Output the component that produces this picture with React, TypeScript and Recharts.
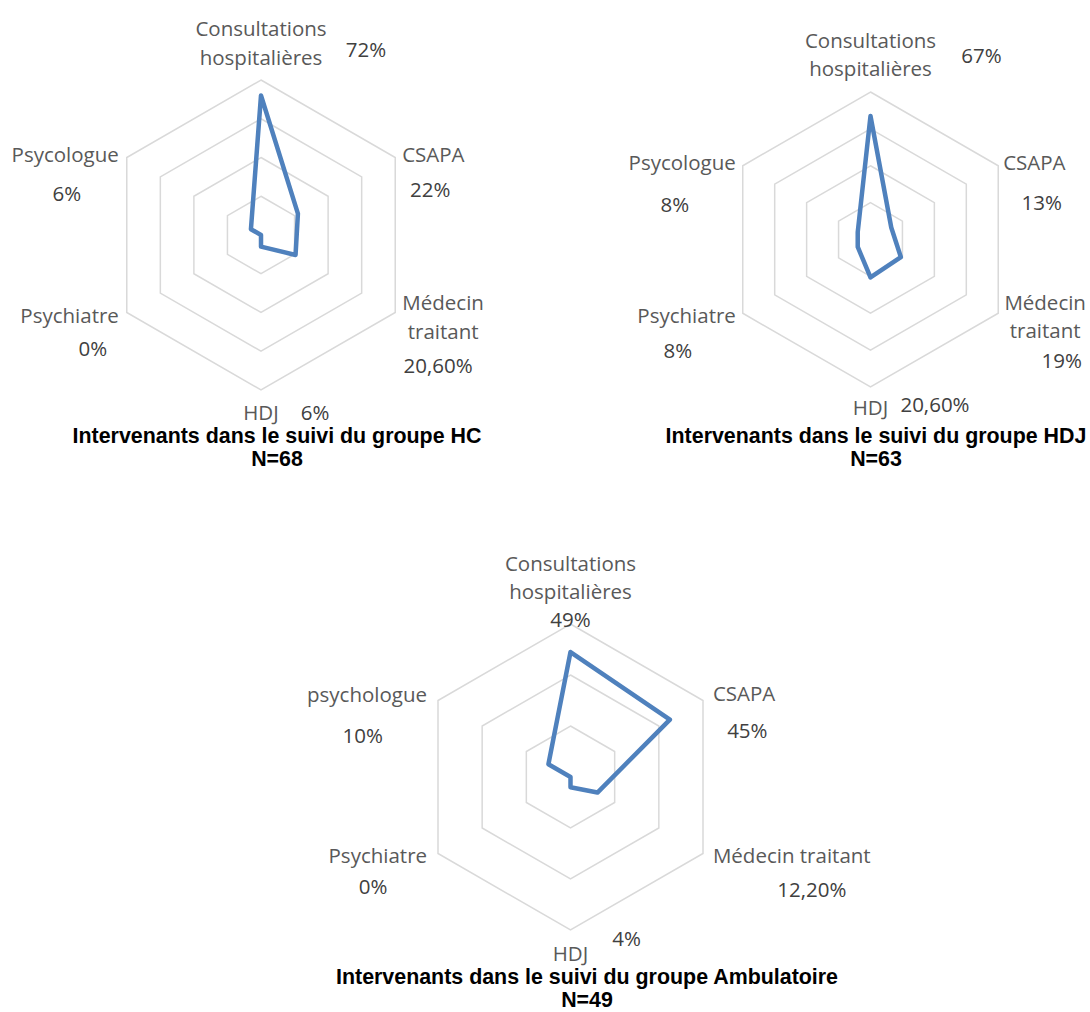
import React from 'react';
import { RadarChart, Radar, PolarGrid, PolarAngleAxis, PolarRadiusAxis } from 'recharts';

// Intervenants (clockwise from the top)
const categoriesHC = ['Consultations hospitalières', 'CSAPA', 'Médecin traitant', 'HDJ', 'Psychiatre', 'Psycologue'];
const valuesHC = [72, 22, 20.6, 6, 0, 6];

const categoriesHDJ = ['Consultations hospitalières', 'CSAPA', 'Médecin traitant', 'HDJ', 'Psychiatre', 'Psycologue'];
const valuesHDJ = [67, 13, 19, 20.6, 8, 8];

const categoriesAmb = ['Consultations hospitalières', 'CSAPA', 'Médecin traitant', 'HDJ', 'Psychiatre', 'psychologue'];
const valuesAmb = [49, 45, 12.2, 4, 0, 10];

const titleHC = ['Intervenants dans le suivi du groupe HC', 'N=68'];
const titleHDJ = ['Intervenants dans le suivi du groupe HDJ', 'N=63'];
const titleAmb = ['Intervenants dans le suivi du groupe Ambulatoire', 'N=49'];

const LINE_COLOR = '#4F81BD';
const GRID_COLOR = '#d9d9d9';
const NAME_COLOR = '#595959';
const VALUE_COLOR = '#404040';
const LABEL_FONT = '"Open Sans", "DejaVu Sans", sans-serif';
const TITLE_FONT = '"Liberation Sans", Arial, sans-serif';

type Anchor = 'start' | 'middle' | 'end';
type LabelSpec = {
  name: [number, number, Anchor];
  wrap?: boolean;
  value: [number, number];
};

// label offsets from each angle-axis tick point
const layoutHC: LabelSpec[] = [
  { name: [0, -44, 'middle'], wrap: true, value: [105, -23] },
  { name: [0, 0, 'start'], value: [28, 35] },
  { name: [41, -14.5, 'middle'], wrap: true, value: [36, 48.5] },
  { name: [0, 14, 'middle'], value: [54, 14] },
  { name: [-1, -1.5, 'end'], value: [-27, 31.5] },
  { name: [-1, 0.5, 'end'], value: [-53, 39.5] },
];

const layoutHDJ: LabelSpec[] = [
  { name: [0, -44, 'middle'], wrap: true, value: [111, -29] },
  { name: [-2, 0, 'start'], value: [36.5, 40] },
  { name: [40, -15, 'middle'], wrap: true, value: [56.5, 43] },
  { name: [0, 12, 'middle'], value: [64.5, 9] },
  { name: [0, -2, 'end'], value: [-58, 33] },
  { name: [0, 0, 'end'], value: [-61, 42] },
];

const layoutAmb: LabelSpec[] = [
  { name: [0, -53, 'middle'], wrap: true, value: [0, 3] },
  { name: [3, -3.5, 'start'], value: [37.4, 33] },
  { name: [3, -2.5, 'start'], value: [102, 31] },
  { name: [0, 15, 'middle'], value: [56, 0] },
  { name: [-4, -2.5, 'end'], value: [-58, 28.5] },
  { name: [-4, -2.5, 'end'], value: [-68.4, 38.5] },
];

const formatPct = (v: number) =>
  Number.isInteger(v) ? `${v}%` : `${v.toFixed(2).replace('.', ',')}%`;

const makeTick = (values: number[], layout: LabelSpec[], lineGap: number) => (props: any) => {
  const { x, y, payload } = props;
  const i = props.index ?? payload?.index ?? 0;
  const spec = layout[i];
  const label = String(payload.value);
  const lines = spec.wrap ? label.split(' ') : [label];
  const [ndx, ndy, anchor] = spec.name;
  const [vdx, vdy] = spec.value;
  return (
    <g>
      <text
        x={x + ndx}
        y={y + ndy}
        textAnchor={anchor}
        dominantBaseline="central"
        fill={NAME_COLOR}
        fontFamily={LABEL_FONT}
        fontSize={20.5}
      >
        {lines.map((line, k) => (
          <tspan key={k} x={x + ndx} y={y + ndy + k * lineGap}>
            {line}
          </tspan>
        ))}
      </text>
      <text
        x={x + vdx}
        y={y + vdy}
        textAnchor="middle"
        dominantBaseline="central"
        fill={VALUE_COLOR}
        fontFamily={LABEL_FONT}
        fontSize={20.5}
      >
        {formatPct(values[i])}
      </text>
    </g>
  );
};

type PanelProps = {
  categories: string[];
  values: number[];
  layout: LabelSpec[];
  lineGap: number;
  max: number;
  left: number;
  top: number;
  width: number;
  height: number;
  cx: number;
  cy: number;
  radius: number;
};

const RadarPanel = ({ categories, values, layout, lineGap, max, left, top, width, height, cx, cy, radius }: PanelProps) => {
  const data = categories.map((name, i) => ({ name, value: values[i] }));
  return (
    <div style={{ position: 'absolute', left, top }}>
      <RadarChart
        width={width}
        height={height}
        data={data}
        cx={cx}
        cy={cy}
        outerRadius={radius}
        margin={{ top: 0, right: 0, bottom: 0, left: 0 }}
      >
        <PolarGrid gridType="polygon" radialLines={false} stroke={GRID_COLOR} strokeWidth={1.5} />
        <PolarRadiusAxis domain={[0, max]} tickCount={max / 20 + 1} tick={false} axisLine={false} />
        <PolarAngleAxis dataKey="name" tick={makeTick(values, layout, lineGap)} tickLine={false} axisLine={false} />
        <Radar
          dataKey="value"
          stroke={LINE_COLOR}
          strokeWidth={4.5}
          strokeLinejoin="round"
          fill="none"
          fillOpacity={0}
          dot={false}
          isAnimationActive={false}
        />
      </RadarChart>
    </div>
  );
};

const Title = ({ lines, x, y }: { lines: string[]; x: number; y: number }) => (
  <div
    style={{
      position: 'absolute',
      left: x - 300,
      top: y - 11,
      width: 600,
      textAlign: 'center',
      fontFamily: TITLE_FONT,
      fontWeight: 'bold',
      fontSize: 21.4,
      lineHeight: '23px',
      color: '#000',
    }}
  >
    {lines.map((l, k) => (
      <div key={k}>{l}</div>
    ))}
  </div>
);

export default function App() {
  return (
    <div style={{ position: 'absolute', left: 0, top: 0, width: 1090, height: 1012, background: '#fff', overflow: 'hidden' }}>
      <RadarPanel
        categories={categoriesHC}
        values={valuesHC}
        layout={layoutHC}
        lineGap={29}
        max={80}
        left={0}
        top={0}
        width={545}
        height={480}
        cx={261}
        cy={235}
        radius={155}
      />
      <RadarPanel
        categories={categoriesHDJ}
        values={valuesHDJ}
        layout={layoutHDJ}
        lineGap={28}
        max={80}
        left={545}
        top={0}
        width={545}
        height={480}
        cx={325.5}
        cy={239.5}
        radius={147.5}
      />
      <RadarPanel
        categories={categoriesAmb}
        values={valuesAmb}
        layout={layoutAmb}
        lineGap={28}
        max={60}
        left={0}
        top={500}
        width={1090}
        height={512}
        cx={570.5}
        cy={277}
        radius={153}
      />
      <Title lines={titleHC} x={277} y={436} />
      <Title lines={titleHDJ} x={876} y={436} />
      <Title lines={titleAmb} x={587} y={977} />
    </div>
  );
}
